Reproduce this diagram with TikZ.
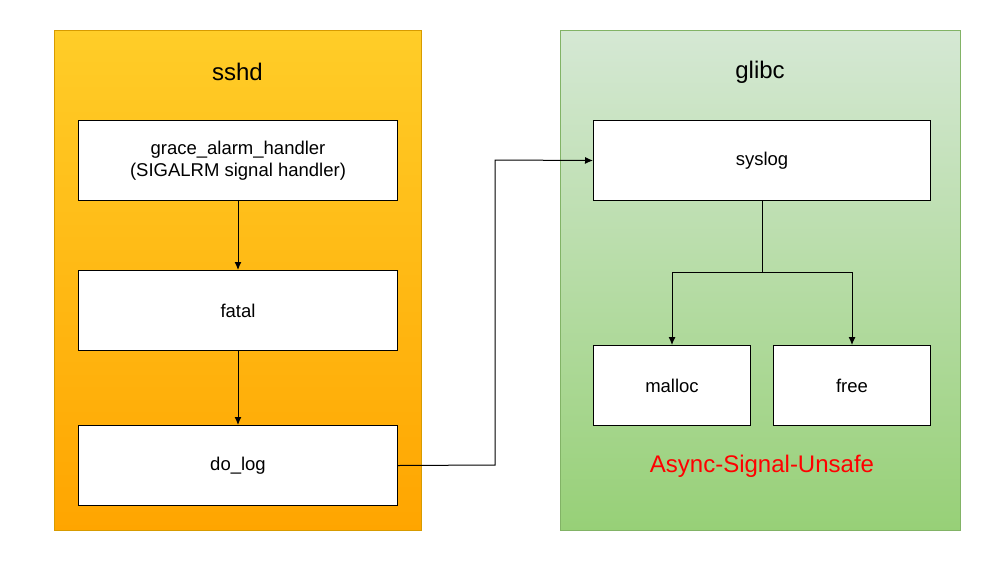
\documentclass[tikz,border=0pt]{standalone}
\usepackage{fontspec}
\setmainfont{Liberation Sans}
\usetikzlibrary{arrows.meta}
\definecolor{orangetop}{HTML}{FFCD28}
\definecolor{orangebot}{HTML}{FFA500}
\definecolor{orangeline}{HTML}{D79B00}
\definecolor{greentop}{HTML}{D5E8D4}
\definecolor{greenbot}{HTML}{97D077}
\definecolor{greenline}{HTML}{82B366}
\definecolor{unsafered}{HTML}{FF0000}
\tikzset{
  container/.style={draw, line width=1pt, minimum width=#1, minimum height=500pt, inner sep=0pt, anchor=north west},
  fnbox/.style={draw=black, fill=white, line width=1pt, inner sep=0pt, align=center, font=\fontsize{18.5}{22}\selectfont, anchor=north west},
  title/.style={font=\fontsize{24}{28}\selectfont},
  conn/.style={line width=1pt, -{Latex[length=8pt,width=7pt]}},
}
\begin{document}
\begin{tikzpicture}[x=1pt,y=-1pt]
\useasboundingbox (0,0) rectangle (1000,560);
% containers
\node[container=367pt, draw=orangeline, top color=orangetop, bottom color=orangebot] (sshd) at (54,30) {};
\node[container=400pt, draw=greenline, top color=greentop, bottom color=greenbot] (glibc) at (560,30) {};
\node[title] (sshdlbl) at (237.5,72) {sshd};
\node[title] (glibclbl) at (760,72) {glibc};
% sshd boxes
\node[fnbox, minimum width=319pt, minimum height=80pt] (grace) at (78,120) {grace\_alarm\_handler\\(SIGALRM signal handler)};
\node[fnbox, minimum width=319pt, minimum height=80pt] (fatal) at (78,270) {fatal};
\node[fnbox, minimum width=319pt, minimum height=80pt] (dolog) at (78,425) {do\_log};
% glibc boxes
\node[fnbox, minimum width=337pt, minimum height=80pt] (syslog) at (593,120) {syslog};
\node[fnbox, minimum width=157pt, minimum height=80pt] (malloc) at (593,345) {malloc};
\node[fnbox, minimum width=157pt, minimum height=80pt] (free) at (773,345) {free};
\node[font=\fontsize{24}{28}\selectfont, text=unsafered] (unsafe) at (762,466) {Async-Signal-Unsafe};
% connectors
\draw[conn] (grace.south) -- (fatal.north);
\draw[conn] (fatal.south) -- (dolog.north);
\coordinate (bend1) at (495,465);
\coordinate (bend2) at (495,160);
\draw[conn] (dolog.east) -- (bend1) -- (bend2) -- (syslog.west);
\coordinate (split) at (762,272);
\draw[conn] (syslog.south) -- (split) -| (malloc.north);
\draw[conn] (split) -| (free.north);
\end{tikzpicture}
\end{document}
